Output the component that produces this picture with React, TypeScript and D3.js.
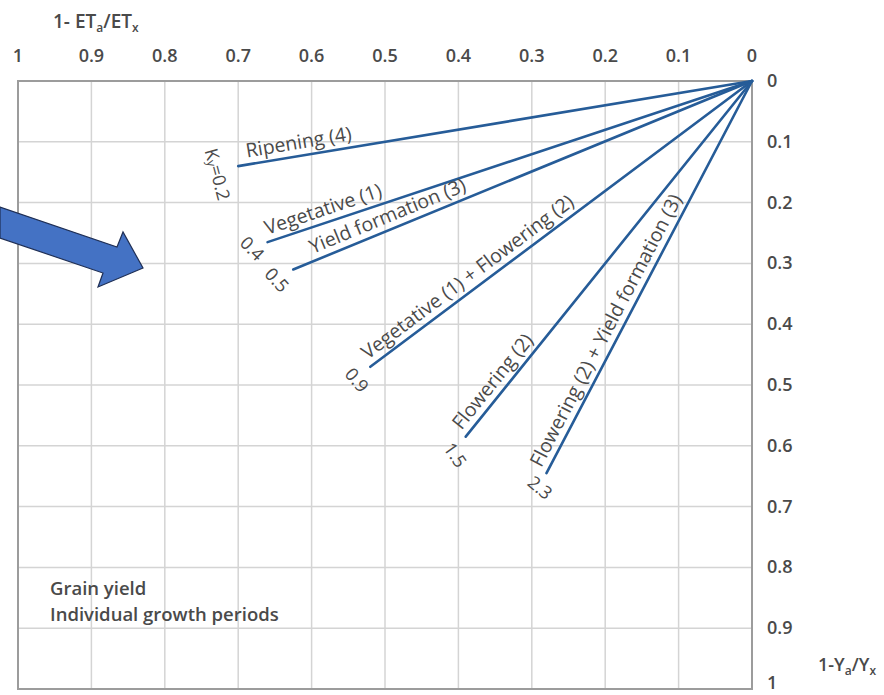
import React from 'react'
import * as d3 from 'd3'

// 1 - ETa/ETx at the end of each line, and 1 - Ya/Yx read at the same point
const etDeficit = [0.7, 0.66, 0.625, 0.52, 0.39, 0.28]
const yieldDeficit = [0.14, 0.265, 0.31, 0.47, 0.585, 0.645]
const stageLabels = [
  'Ripening (4)',
  'Vegetative (1)',
  'Yield formation (3)',
  'Vegetative (1) + Flowering (2)',
  'Flowering (2)',
  'Flowering (2) + Yield formation (3)',
]
const kyLabels = ['0.2', '0.4', '0.5', '0.9', '1.5', '2.3']
const xTicks = [1, 0.9, 0.8, 0.7, 0.6, 0.5, 0.4, 0.3, 0.2, 0.1, 0]
const yTicks = [0, 0.1, 0.2, 0.3, 0.4, 0.5, 0.6, 0.7, 0.8, 0.9, 1]

// label placement (px along line from its end, Ky label offset and angle)
const stageShift = [10, 2, 24, 2, 2, 2]
const kyShift = [
  [-20, 8],
  [-15, 6],
  [-16, 10],
  [-13, 13],
  [-10, 18],
  [-6, 14],
]
const kyAngle = [75, 45, 48, 50, 55, 40]

const W = 884
const H = 695
const lineColor = '#265c98'
const textColor = '#4a4a4a'
const font = '"Open Sans", "DejaVu Sans", sans-serif'

const fmt = (v: number) => (v === 0 || v === 1 ? String(v) : v.toFixed(1))

export default function App() {
  const x = d3.scaleLinear().domain([1, 0]).range([18, 752])
  const y = d3.scaleLinear().domain([0, 1]).range([81, 689])

  const ox = x(0)
  const oy = y(0)

  const lines = etDeficit.map((et, i) => {
    const ex = x(et)
    const ey = y(yieldDeficit[i])
    const dx = ox - ex
    const dy = oy - ey
    const len = Math.hypot(dx, dy)
    const ux = dx / len
    const uy = dy / len
    const angle = (Math.atan2(dy, dx) * 180) / Math.PI
    // start of the stage label, a little above the line
    const sx = ex + ux * stageShift[i] + uy * 7
    const sy = ey + uy * stageShift[i] - ux * 7
    return { i, ex, ey, angle, sx, sy }
  })

  const arrow = d3.line()([
    [0, 207],
    [117, 247],
    [123, 232],
    [143, 268],
    [98, 287],
    [103, 273],
    [0, 238],
  ])

  return (
    <svg width={W} height={H} style={{ position: 'absolute', left: 0, top: 0, background: '#fff' }} fontFamily={font}>
      {/* grid */}
      <g stroke="#d4d4d4" strokeWidth={1.5}>
        {xTicks.slice(1, -1).map((t) => (
          <line key={'gx' + t} x1={x(t)} x2={x(t)} y1={y(0)} y2={y(1)} />
        ))}
        {yTicks.slice(1, -1).map((t) => (
          <line key={'gy' + t} x1={x(1)} x2={x(0)} y1={y(t)} y2={y(t)} />
        ))}
      </g>
      <rect x={x(1)} y={y(0)} width={x(0) - x(1)} height={y(1) - y(0)} fill="none" stroke="#9c9c9c" strokeWidth={2} />

      {/* top axis */}
      <g fill={textColor} fontSize={18} fontWeight={600} textAnchor="middle">
        {xTicks.map((t) => (
          <text key={'tx' + t} x={x(t)} y={62}>
            {fmt(t)}
          </text>
        ))}
      </g>
      <text x={53} y={28} fill={textColor} fontSize={19} fontWeight={600}>
        1- ET
        <tspan fontSize={12} dy={4}>a</tspan>
        <tspan dy={-4}>/ET</tspan>
        <tspan fontSize={12} dy={4}>x</tspan>
      </text>

      {/* right axis */}
      <g fill={textColor} fontSize={18} fontWeight={600}>
        {yTicks.map((t) => (
          <text key={'ty' + t} x={767} y={Math.min(y(t) + 6, 689)}>
            {fmt(t)}
          </text>
        ))}
      </g>
      <text x={818} y={671} fill={textColor} fontSize={18} fontWeight={600}>
        1-Y
        <tspan fontSize={12} dy={4}>a</tspan>
        <tspan dy={-4}>/Y</tspan>
        <tspan fontSize={12} dy={4}>x</tspan>
      </text>

      {/* Ky lines */}
      {lines.map((l) => (
        <line
          key={'l' + l.i}
          x1={l.ex}
          y1={l.ey}
          x2={ox}
          y2={oy}
          stroke={lineColor}
          strokeWidth={2.6}
          strokeLinecap="round"
        />
      ))}
      <g fill={textColor} fontSize={19.5}>
        {lines.map((l) => (
          <text key={'s' + l.i} transform={`translate(${l.sx},${l.sy}) rotate(${l.angle})`}>
            {stageLabels[l.i]}
          </text>
        ))}
      </g>
      <g fill={textColor} fontSize={18} textAnchor="middle" dominantBaseline="central">
        {lines.map((l) => (
          <text
            key={'k' + l.i}
            transform={`translate(${l.ex + kyShift[l.i][0]},${l.ey + kyShift[l.i][1]}) rotate(${kyAngle[l.i]})`}
          >
            {l.i === 0 ? (
              <>
                K<tspan fontSize={12} dy={3}>y</tspan>
                <tspan dy={-3}>={kyLabels[l.i]}</tspan>
              </>
            ) : (
              kyLabels[l.i]
            )}
          </text>
        ))}
      </g>

      {/* note */}
      <g fill={textColor} fontSize={18.5} fontWeight={600}>
        <text x={50} y={595}>Grain yield</text>
        <text x={50} y={621}>Individual growth periods</text>
      </g>

      {/* pointer arrow */}
      <path d={arrow + 'Z'} fill="#4472c4" stroke="#1f2f55" strokeWidth={1.2} strokeLinejoin="miter" />
    </svg>
  )
}
